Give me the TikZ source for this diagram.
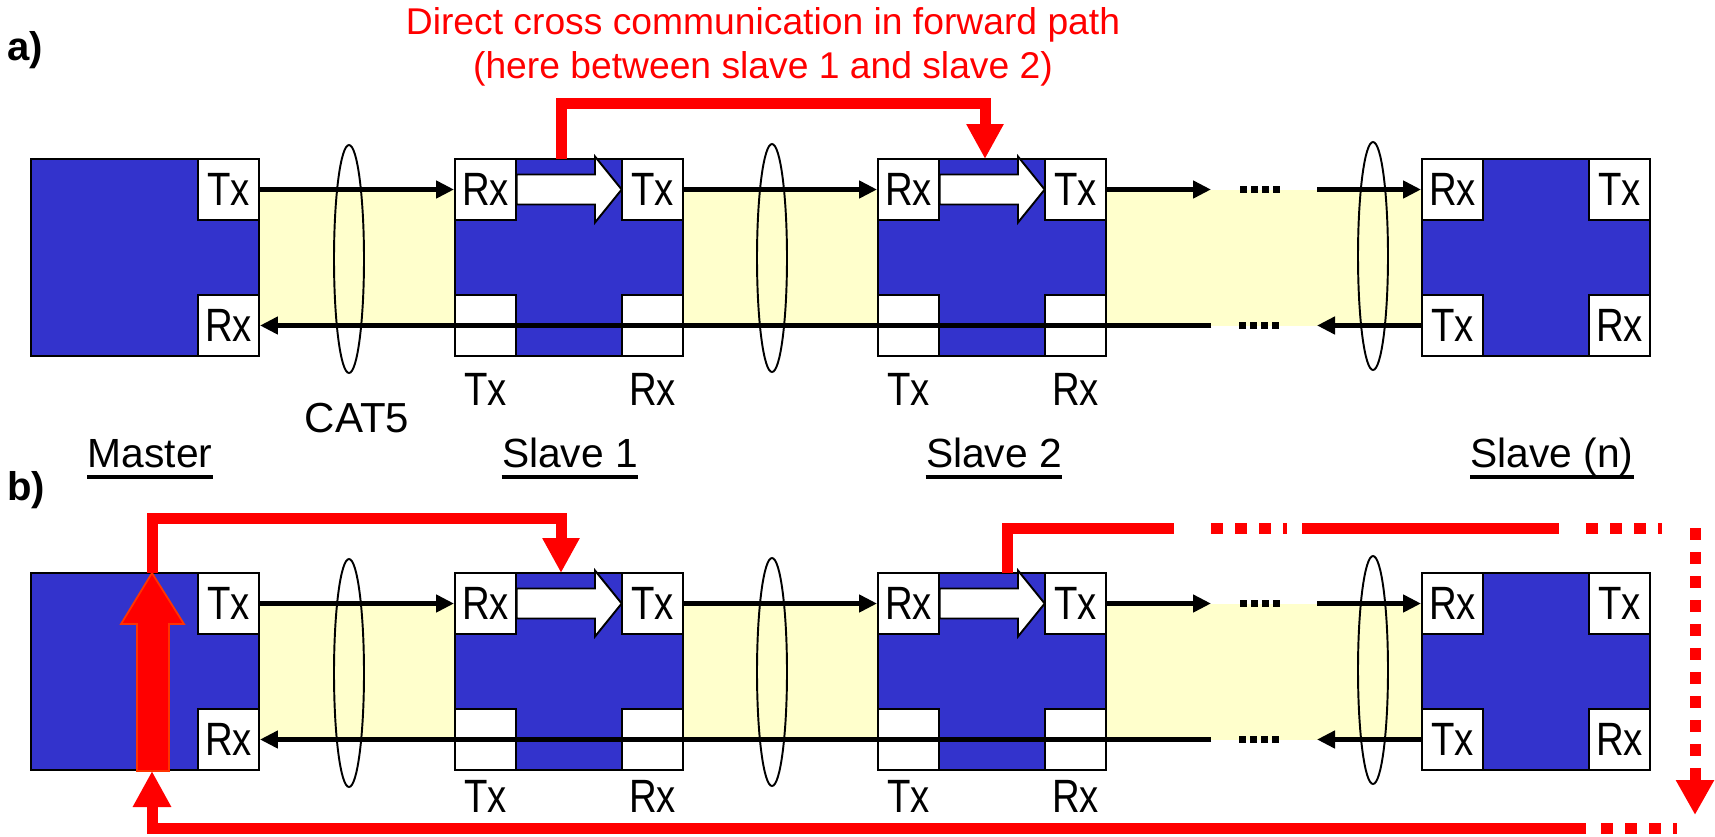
\documentclass[tikz,border=0pt]{standalone}
\usepackage{fontspec}
\setmainfont{Liberation Sans}
\newfontfamily\narrowfont{Liberation Sans}[FakeStretch=0.82]
\usetikzlibrary{arrows.meta,calc}
\definecolor{myblue}{HTML}{3333CC}
\definecolor{myyellow}{HTML}{FFFFCC}
\definecolor{myred}{HTML}{FF0000}
\definecolor{myorange}{HTML}{FF3300}
\newcommand{\portfont}{\narrowfont\fontsize{26.6pt}{30pt}\selectfont}
\begin{document}
\begin{tikzpicture}[x=0.02cm, y=-0.02cm,
  unit/.style={draw=black, fill=myblue, line width=1.1pt, minimum width=4.56cm, minimum height=3.94cm, inner sep=0pt},
  port/.style={draw=black, fill=white, line width=1.1pt, minimum width=1.22cm, minimum height=1.22cm, inner sep=0pt, font=\portfont},
  sublbl/.style={anchor=base, inner sep=0pt, font=\portfont},
  blk/.style={line width=3.4pt, -{Triangle[length=0.36cm,width=0.34cm]}},
  dotline/.style={line width=3.6pt, dash pattern=on 0.14cm off 0.08cm},
  ell/.style={line width=1.1pt},
  barrow/.style={draw=black, fill=white, line width=1.1pt, line join=miter},
  redl/.style={draw=myred, line width=6.26pt, line join=miter},
  redtip/.style={-{Triangle[length=0.7cm,width=0.7cm]}},
  reddash/.style={redl, dash pattern=on 0.24cm off 0.24cm},
  lbl/.style={anchor=base, inner sep=0pt, font=\fontsize{23.2pt}{26pt}\selectfont},
  uline/.style={line width=2.3pt},
  plabel/.style={font=\bfseries\fontsize{22.8pt}{26pt}\selectfont, inner sep=0pt}
]
\useasboundingbox (0,0) rectangle (1715,836);

\foreach \p/\T/\L in {a/159/405, b/573/812} {
  % yellow cable band
  \fill[myyellow] (259,\T+30.5) rectangle (1422,\T+166.5);
  % units
  \node[unit] (\p M)  at (145,\T+98.5) {};
  \node[unit] (\p S1) at (569,\T+98.5) {};
  \node[unit] (\p S2) at (992,\T+98.5) {};
  \node[unit] (\p Sn) at (1536,\T+98.5) {};
  % ports
  \node[port] (\p Mtx) at (228.5,\T+30.5) {Tx};
  \node[port] (\p Mrx) at (228.5,\T+166.5) {Rx};
  \node[port] (\p Arx) at (485.5,\T+30.5) {Rx};
  \node[port] (\p Atx) at (652.5,\T+30.5) {Tx};
  \node[port] (\p Ab1) at (485.5,\T+166.5) {};
  \node[port] (\p Ab2) at (652.5,\T+166.5) {};
  \node[port] (\p Brx) at (908.5,\T+30.5) {Rx};
  \node[port] (\p Btx) at (1075.5,\T+30.5) {Tx};
  \node[port] (\p Bb1) at (908.5,\T+166.5) {};
  \node[port] (\p Bb2) at (1075.5,\T+166.5) {};
  \node[port] (\p Nrx) at (1452.5,\T+30.5) {Rx};
  \node[port] (\p Ntx) at (1619.5,\T+30.5) {Tx};
  \node[port] (\p Ntb) at (1452.5,\T+166.5) {Tx};
  \node[port] (\p Nrb) at (1619.5,\T+166.5) {Rx};
  % internal forwarding block arrows
  \foreach \sx in {0,423} {
    \filldraw[barrow] (516.7+\sx,\T+15.5) -- (595+\sx,\T+15.5) -- (595+\sx,\T-2.5)
      -- (621.7+\sx,\T+30.5) -- (595+\sx,\T+63.5) -- (595+\sx,\T+45.5)
      -- (516.7+\sx,\T+45.5) -- cycle;
  }
  % forward path
  \coordinate (\p D1) at (1211,\T+30.5);
  \coordinate (\p D2) at (1317,\T+30.5);
  \coordinate (\p D3) at (1317,\T+166.5);
  \coordinate (\p D4) at (1211,\T+166.5);
  \draw[blk] (\p Mtx.east) -- (\p Arx.west);
  \draw[blk] (\p Atx.east) -- (\p Brx.west);
  \draw[blk] (\p Btx.east) -- (\p D1);
  \draw[dotline] (1240,\T+30.5) -- (1282,\T+30.5);
  \draw[blk] (\p D2) -- (\p Nrx.west);
  % return path
  \draw[blk] (\p Ntb.west) -- (\p D3);
  \draw[dotline] (1239,\T+166.5) -- (1281,\T+166.5);
  \draw[blk] (\p D4) -- (\p Mrx.east);
  % cable ellipses
  \draw[ell] (349,\T+100) ellipse [x radius=0.3cm, y radius=2.28cm];
  \draw[ell] (772,\T+99) ellipse [x radius=0.3cm, y radius=2.28cm];
  \draw[ell] (1373,\T+97) ellipse [x radius=0.3cm, y radius=2.28cm];
  % port labels under slaves
  \node[sublbl] at (485.5,\L) {Tx};
  \node[sublbl] at (652.5,\L) {Rx};
  \node[sublbl] at (908.5,\L) {Tx};
  \node[sublbl] at (1075.5,\L) {Rx};
}

% panel labels
\node[plabel] (pa) at (25,50) {a)};
\node[plabel] (pb) at (26,490) {b)};

% title
\node[anchor=north, align=center, text=myred, inner sep=0pt,
      font=\fontsize{21.2pt}{25pt}\selectfont] (title) at (763,7)
  {Direct cross communication in forward path\\(here between slave 1 and slave 2)};

% CAT5 and unit names
\node[anchor=base, inner sep=0pt, font=\fontsize{23.9pt}{27pt}\selectfont] (cat) at (357,432) {CAT5};
\node[lbl] (lM) at (150,467) {Master};
\node[lbl] (lS1) at (570,467) {Slave 1};
\node[lbl] (lS2) at (994,467) {Slave 2};
\node[lbl] (lSn) at (1552,467) {Slave (n)};
\foreach \n in {lM,lS1,lS2,lSn} {
  \draw[uline] ([yshift=-0.2cm]\n.base west) -- ([yshift=-0.2cm]\n.base east);
}

% panel a: direct cross communication slave 1 -> slave 2
\coordinate (ra1) at (561,159);
\coordinate (ra2) at (985,159);
\draw[redl, redtip] (ra1) -- (561,103) -- (985,103) -- (ra2);

% panel b: master -> slave 1
\filldraw[fill=myred, draw=myorange, line width=1pt, line join=miter]
  (137,771) -- (137,624) -- (121,624) -- (152,573) -- (184,624) -- (169,624) -- (169,771) -- cycle;
\coordinate (rb0) at (152,573);
\coordinate (rb1) at (561,573);
\draw[redl, redtip] (rb0) -- (152,518) -- (561,518) -- (rb1);

% panel b: slave 2 -> ... -> back to master
\coordinate (rc0) at (1007,573);
\draw[redl] (rc0) -- (1007,528) -- (1174,528);
\draw[reddash] (1211,528) -- (1287,528);
\draw[redl] (1302,528) -- (1559,528);
\draw[reddash] (1586,528) -- (1662,528);
\coordinate (rc1) at (1695,528);
\coordinate (rc2) at (1695,815);
\draw[reddash, -{Triangle[length=0.7cm,width=0.72cm]}] (rc1) -- (rc2);
\draw[reddash] (1601,828) -- (1677,828);
\coordinate (rd0) at (1586,828);
\coordinate (rd1) at (152,771);
\draw[redl, -{Triangle[length=0.72cm,width=0.72cm]}] (rd0) -- (152,828) -- (rd1);
\end{tikzpicture}
\end{document}
